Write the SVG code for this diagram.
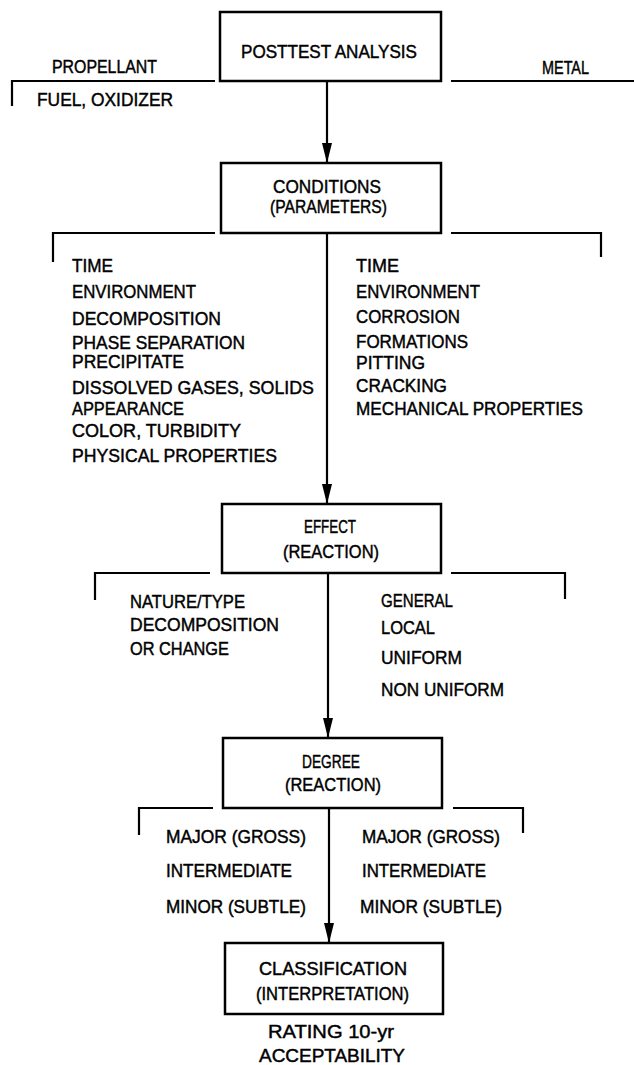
<svg xmlns="http://www.w3.org/2000/svg" width="634" height="1065" viewBox="0 0 634 1065">
<style>
  .box { fill: #fff; stroke: #000; stroke-width: 2.5; }
  .ln { fill: none; stroke: #000; stroke-width: 2.2; }
  text { font-family: "Liberation Sans", Arial, sans-serif; font-size: 19px; fill: #000; stroke: #000; stroke-width: 0.45; }
</style>
<defs>
  <marker id="arr" markerUnits="userSpaceOnUse" markerWidth="22" markerHeight="12" refX="20" refY="5" orient="auto">
    <path d="M0,0 L20,5 L0,10 z" fill="#000"/>
  </marker>
</defs>
<rect width="634" height="1065" fill="#fff"/>

<g id="connectors">
  <path class="ln" d="M12,106 V81 H215"/>
  <path class="ln" d="M451,81 H634"/>
  <path class="ln" d="M53,262 V233 H215"/>
  <path class="ln" d="M451,233 H601 V257"/>
  <path class="ln" d="M95,600 V573 H210"/>
  <path class="ln" d="M451,573 H565 V599"/>
  <path class="ln" d="M139,835 V808 H213"/>
  <path class="ln" d="M453,808 H523 V833"/>
  <line class="ln" x1="327" y1="81" x2="327" y2="163" marker-end="url(#arr)"/>
  <line class="ln" x1="327" y1="233" x2="327" y2="504" marker-end="url(#arr)"/>
  <line class="ln" x1="328" y1="573" x2="328" y2="738" marker-end="url(#arr)"/>
  <line class="ln" x1="329" y1="808" x2="329" y2="943" marker-end="url(#arr)"/>
</g>

<g id="posttest">
  <rect class="box" x="220" y="12" width="221" height="69"/>
  <text x="241" y="58" textLength="176" lengthAdjust="spacingAndGlyphs">POSTTEST ANALYSIS</text>
</g>

<g id="propellant-label">
  <text x="52" y="73" textLength="105" lengthAdjust="spacingAndGlyphs">PROPELLANT</text>
  <text x="37" y="106" textLength="136" lengthAdjust="spacingAndGlyphs">FUEL, OXIDIZER</text>
</g>
<g id="metal-label">
  <text x="542" y="74" textLength="47" lengthAdjust="spacingAndGlyphs">METAL</text>
</g>

<g id="conditions">
  <rect class="box" x="221" y="163" width="220" height="70"/>
  <text x="273" y="193" textLength="108" lengthAdjust="spacingAndGlyphs">CONDITIONS</text>
  <text x="270" y="213" textLength="117" lengthAdjust="spacingAndGlyphs">(PARAMETERS)</text>
</g>

<g id="conditions-propellant">
  <text x="72" y="272" textLength="41" lengthAdjust="spacingAndGlyphs">TIME</text>
  <text x="72" y="298" textLength="124" lengthAdjust="spacingAndGlyphs">ENVIRONMENT</text>
  <text x="72" y="325" textLength="149" lengthAdjust="spacingAndGlyphs">DECOMPOSITION</text>
  <text x="72" y="349" textLength="173" lengthAdjust="spacingAndGlyphs">PHASE SEPARATION</text>
  <text x="72" y="368" textLength="112" lengthAdjust="spacingAndGlyphs">PRECIPITATE</text>
  <text x="72" y="394" textLength="242" lengthAdjust="spacingAndGlyphs">DISSOLVED GASES, SOLIDS</text>
  <text x="72" y="415" textLength="112" lengthAdjust="spacingAndGlyphs">APPEARANCE</text>
  <text x="72" y="437" textLength="169" lengthAdjust="spacingAndGlyphs">COLOR, TURBIDITY</text>
  <text x="72" y="462" textLength="205" lengthAdjust="spacingAndGlyphs">PHYSICAL PROPERTIES</text>
</g>

<g id="conditions-metal">
  <text x="356" y="272" textLength="43" lengthAdjust="spacingAndGlyphs">TIME</text>
  <text x="356" y="298" textLength="124" lengthAdjust="spacingAndGlyphs">ENVIRONMENT</text>
  <text x="356" y="323" textLength="104" lengthAdjust="spacingAndGlyphs">CORROSION</text>
  <text x="356" y="348" textLength="112" lengthAdjust="spacingAndGlyphs">FORMATIONS</text>
  <text x="356" y="369" textLength="69" lengthAdjust="spacingAndGlyphs">PITTING</text>
  <text x="356" y="392" textLength="91" lengthAdjust="spacingAndGlyphs">CRACKING</text>
  <text x="356" y="415" textLength="227" lengthAdjust="spacingAndGlyphs">MECHANICAL PROPERTIES</text>
</g>

<g id="effect">
  <rect class="box" x="222" y="504" width="219" height="69"/>
  <text x="304" y="533" textLength="52" lengthAdjust="spacingAndGlyphs">EFFECT</text>
  <text x="283" y="558" textLength="96" lengthAdjust="spacingAndGlyphs">(REACTION)</text>
</g>

<g id="effect-propellant">
  <text x="130" y="608" textLength="115" lengthAdjust="spacingAndGlyphs">NATURE/TYPE</text>
  <text x="130" y="631" textLength="149" lengthAdjust="spacingAndGlyphs">DECOMPOSITION</text>
  <text x="130" y="655" textLength="99" lengthAdjust="spacingAndGlyphs">OR CHANGE</text>
</g>

<g id="effect-metal">
  <text x="381" y="607" textLength="72" lengthAdjust="spacingAndGlyphs">GENERAL</text>
  <text x="381" y="634" textLength="54" lengthAdjust="spacingAndGlyphs">LOCAL</text>
  <text x="381" y="664" textLength="81" lengthAdjust="spacingAndGlyphs">UNIFORM</text>
  <text x="381" y="696" textLength="123" lengthAdjust="spacingAndGlyphs">NON UNIFORM</text>
</g>

<g id="degree">
  <rect class="box" x="223" y="738" width="219" height="70"/>
  <text x="302" y="768" textLength="58" lengthAdjust="spacingAndGlyphs">DEGREE</text>
  <text x="285" y="791" textLength="96" lengthAdjust="spacingAndGlyphs">(REACTION)</text>
</g>

<g id="degree-propellant">
  <text x="166" y="843" textLength="140" lengthAdjust="spacingAndGlyphs">MAJOR (GROSS)</text>
  <text x="166" y="877" textLength="126" lengthAdjust="spacingAndGlyphs">INTERMEDIATE</text>
  <text x="166" y="913" textLength="140" lengthAdjust="spacingAndGlyphs">MINOR (SUBTLE)</text>
</g>

<g id="degree-metal">
  <text x="362" y="843" textLength="138" lengthAdjust="spacingAndGlyphs">MAJOR (GROSS)</text>
  <text x="362" y="877" textLength="124" lengthAdjust="spacingAndGlyphs">INTERMEDIATE</text>
  <text x="360" y="913" textLength="142" lengthAdjust="spacingAndGlyphs">MINOR (SUBTLE)</text>
</g>

<g id="classification">
  <rect class="box" x="225" y="943" width="218" height="71"/>
  <text x="259" y="975" textLength="148" lengthAdjust="spacingAndGlyphs">CLASSIFICATION</text>
  <text x="256" y="1000" textLength="153" lengthAdjust="spacingAndGlyphs">(INTERPRETATION)</text>
</g>

<g id="rating">
  <text x="268" y="1038" textLength="126" lengthAdjust="spacingAndGlyphs">RATING 10-yr</text>
  <text x="259" y="1062" textLength="146" lengthAdjust="spacingAndGlyphs">ACCEPTABILITY</text>
</g>
</svg>
